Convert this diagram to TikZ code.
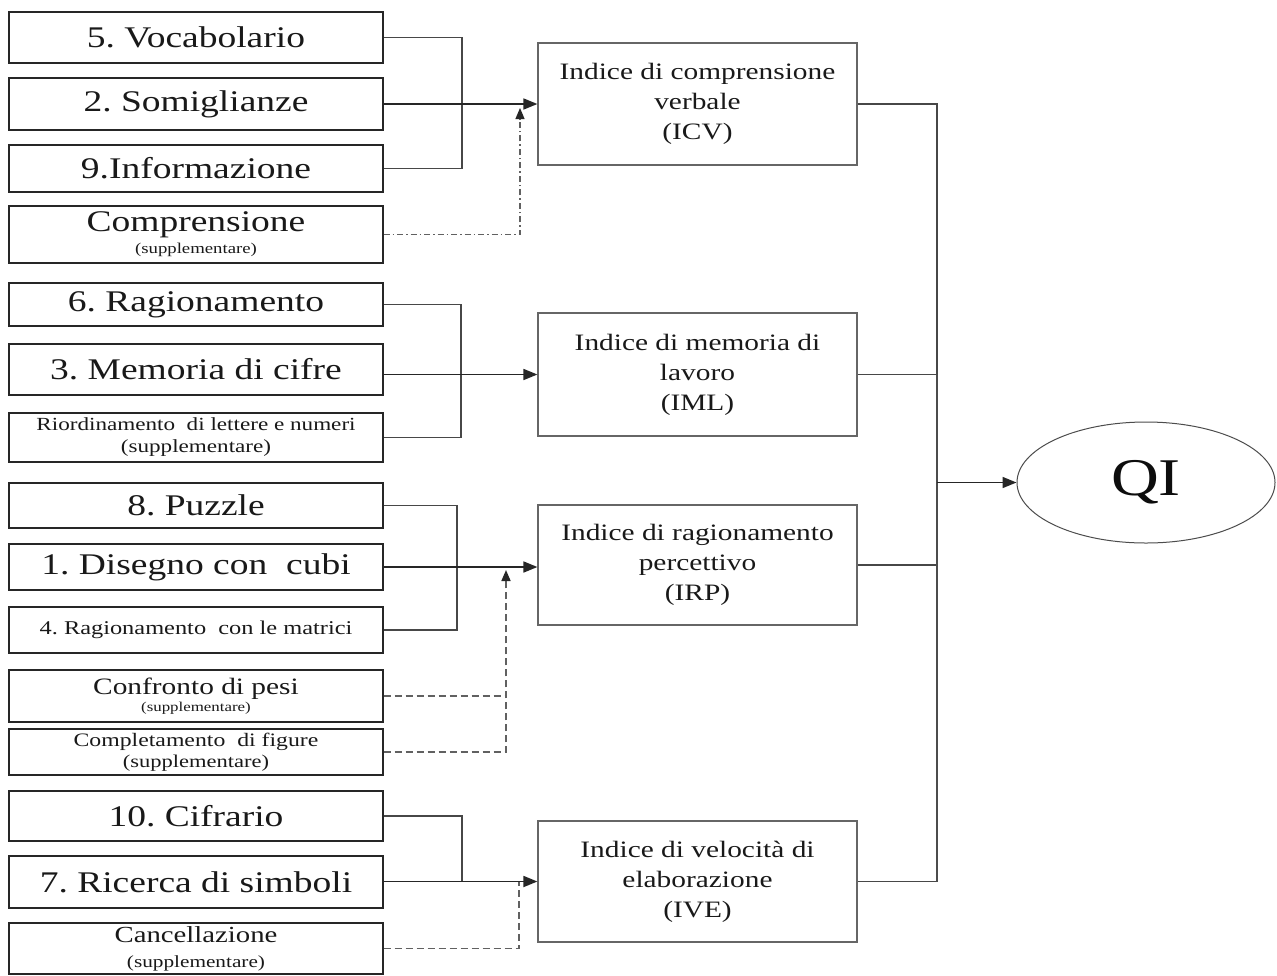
\documentclass[tikz,border=0pt]{standalone}
\usepackage{fontspec}
\setmainfont{Liberation Serif}[FakeStretch=1.25]
\usetikzlibrary{arrows.meta,shapes.geometric}
\newcommand{\fsz}[2]{\fontsize{#1}{#2}\selectfont}
\frenchspacing
\begin{document}
\begin{tikzpicture}[x=1pt,y=-1pt,
 lbox/.style={draw=black!85, line width=1.4pt, rectangle, inner sep=0pt, minimum width=374pt, align=center, text=black!90},
 ibox/.style={draw=black!60, line width=1.2pt, rectangle, inner sep=0pt, minimum width=319pt, align=center, text=black!90, font=\fsz{23.5}{30}},
 big/.style={font=\fsz{30}{34}},
 conn/.style={draw=black!72, line width=1.5pt},
 arr/.style={draw=black!85, line width=1.7pt, -{Triangle[length=14pt,width=11pt]}},
 dsh/.style={draw=black!62, line width=1.6pt, dash pattern=on 7pt off 4pt},
 dd/.style={draw=black!62, line width=1.2pt, dash pattern=on 6pt off 3pt on 1.5pt off 3pt},
 tip/.style={-{Triangle[length=11pt,width=9pt,color=black!85]}}
]
\useasboundingbox[fill=white] (0,0) rectangle (1277,975);

% left boxes
\node[lbox, big, minimum height=51pt] (voc) at (196,37.5) {5. Vocabolario};
\node[lbox, big, minimum height=52pt] (som) at (196,104) {2. Somiglianze};
\node[lbox, big, minimum height=47pt] (inf) at (196,168.5) {9.Informazione};
\node[lbox, minimum height=57pt, font=\fsz{15}{22}] (cmp) at (196,234.5) {{\fsz{30}{22}Comprensione}\\(supplementare)};
\node[lbox, big, minimum height=43pt] (rag) at (196,304.5) {6. Ragionamento};
\node[lbox, big, minimum height=51pt] (mem) at (196,369.5) {3. Memoria di cifre};
\node[lbox, minimum height=49pt, font=\fsz{18.5}{22}] (rio) at (196,437.5) {Riordinamento\ \ di lettere e numeri\\(supplementare)};
\node[lbox, big, minimum height=45pt] (puz) at (196,505.5) {8. Puzzle};
\node[lbox, big, minimum height=46pt] (cub) at (196,567) {1. Disegno con\ \ cubi};
\node[lbox, minimum height=46pt, font=\fsz{19.5}{22}] (mat) at (196,630) {4. Ragionamento\ \ con le matrici};
\node[lbox, minimum height=52pt, font=\fsz{13.5}{17}] (con) at (196,696) {{\fsz{23.5}{17}Confronto di pesi}\\(supplementare)};
\node[lbox, minimum height=46pt, font=\fsz{18}{21}] (cmpl) at (196,752) {{\fsz{19}{21}Completamento\ \ di figure}\\(supplementare)};
\node[lbox, big, minimum height=50pt] (cif) at (196,816) {10. Cifrario};
\node[lbox, big, minimum height=52pt] (ric) at (196,882) {7. Ricerca di simboli};
\node[lbox, minimum height=51pt, font=\fsz{17}{25}] (can) at (196,948.5) {{\fsz{23}{25}Cancellazione}\\(supplementare)};

% index boxes
\node[ibox, minimum height=122pt] (icv) at (697.5,104) {Indice di comprensione\\verbale\\(ICV)};
\node[ibox, minimum height=123pt] (iml) at (697.5,374.5) {Indice di memoria di\\lavoro\\(IML)};
\node[ibox, minimum height=120pt] (irp) at (697.5,565) {Indice di ragionamento\\percettivo\\(IRP)};
\node[ibox, minimum height=121pt] (ive) at (697.5,881.5) {Indice di velocità di\\elaborazione\\(IVE)};

% QI
\node[draw=black!70, line width=1pt, ellipse, minimum width=258pt, minimum height=121pt, inner sep=0pt, text=black!95, font=\fsz{53}{60}] (qi) at (1146,482.5) {QI};

% group 1
\coordinate (j1) at (462,0);
\draw[conn] (voc.east) -| (j1 |- inf.east) -- (inf.east);
\draw[arr] (som.east) -- (som.east -| icv.west);
\coordinate (d1) at (520,108);
\draw[dd, tip] (cmp.east) -| (d1);

% group 2
\coordinate (j2) at (461,0);
\draw[conn] (rag.east) -| (j2 |- rio.east) -- (rio.east);
\draw[arr] (mem.east |- iml.west) -- (iml.west);

% group 3
\coordinate (j3) at (457,0);
\draw[conn] (puz.east) -| (j3 |- mat.east) -- (mat.east);
\draw[arr] (cub.east) -- (cub.east -| irp.west);
\coordinate (d3) at (506,570);
\draw[dsh] (con.east) -- (con.east -| d3);
\draw[dsh, tip] (cmpl.east) -| (d3);

% group 4
\coordinate (j4) at (462,0);
\draw[conn] (cif.east) -| (j4 |- ive.west);
\draw[arr] (ric.east |- ive.west) -- (ive.west);
\coordinate (d4) at (519,881.5);
\draw[dsh] (can.east) -| (d4);

% right bus
\coordinate (bus) at (937,0);
\draw[conn] (icv.east) -| (bus |- ive.east) -- (ive.east);
\draw[conn] (iml.east) -- (iml.east -| bus);
\draw[conn] (irp.east) -- (irp.east -| bus);
\draw[draw=black!70, line width=2.6pt] (bus |- iml.east) -- (bus |- ive.east);
\draw[arr] (bus |- qi.west) -- (qi.west);
\end{tikzpicture}
\end{document}
